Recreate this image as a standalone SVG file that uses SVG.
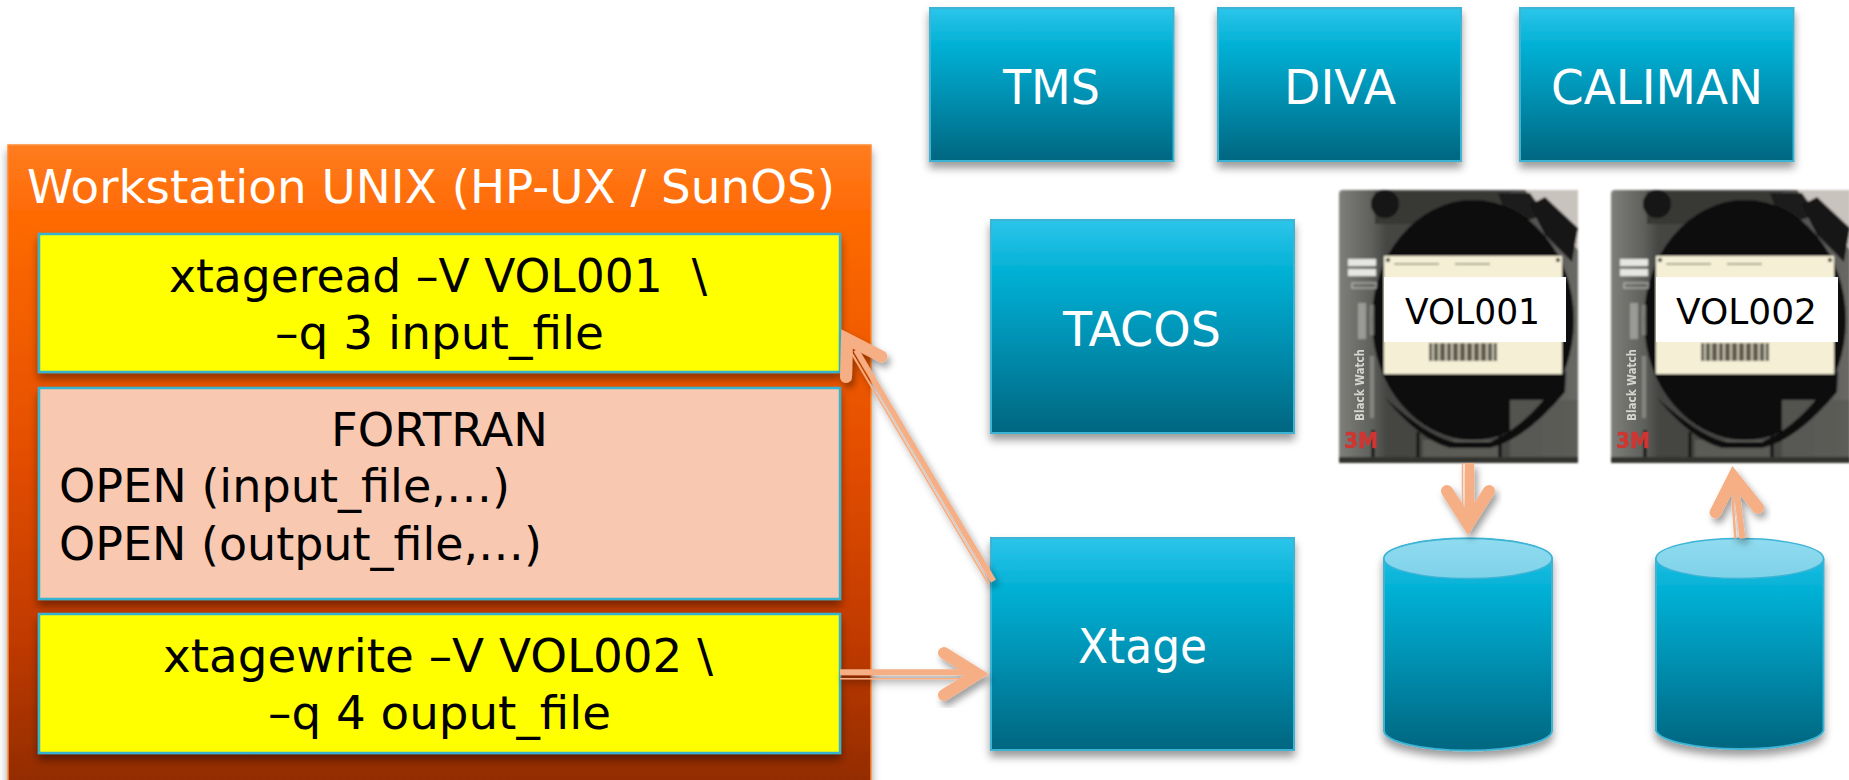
<svg xmlns="http://www.w3.org/2000/svg" width="1849" height="780" viewBox="0 0 1849 780">
<style>
text{font-family:"DejaVu Sans","Liberation Sans",sans-serif;white-space:pre}
.t45{font-size:46px;fill:#000}
.w45{font-size:46px;fill:#fff}
.w48{font-size:48px;fill:#fff;text-anchor:start}
.vol{font-size:36px;fill:#000}
.blue{fill:url(#blueG);stroke:#3db4d4;stroke-width:2;filter:url(#sh)}
.inner{stroke:#35b3d0;stroke-width:2.5;filter:url(#sh)}
.shaft{stroke:#f6ae85;fill:none}
.head{stroke:#f6ae85;fill:none;stroke-width:12;stroke-linecap:round;stroke-linejoin:miter;stroke-miterlimit:6}
.arrow{filter:url(#shA)}
</style>
<defs>
<linearGradient id="blueG" x1="0" y1="0" x2="0" y2="1"><stop offset="0" stop-color="#2dc5ea"/><stop offset=".25" stop-color="#00b0d4"/><stop offset=".55" stop-color="#0093b5"/><stop offset="1" stop-color="#006680"/></linearGradient>
<linearGradient id="orG" x1="0" y1="0" x2="0" y2="1"><stop offset="0" stop-color="#ff7c1e"/><stop offset=".1" stop-color="#ff6b06"/><stop offset=".45" stop-color="#e64f00"/><stop offset=".75" stop-color="#c03a00"/><stop offset="1" stop-color="#8b2a00"/></linearGradient>
<linearGradient id="capG" x1="0" y1="0" x2="0" y2="1"><stop offset="0" stop-color="#90dbef"/><stop offset="1" stop-color="#7fd2ea"/></linearGradient>
<linearGradient id="shellG" x1="0" y1="0" x2="1" y2="0"><stop offset="0" stop-color="#7e807a"/><stop offset=".14" stop-color="#5e5f5b"/><stop offset=".2" stop-color="#454543"/><stop offset=".7" stop-color="#484846"/><stop offset="1" stop-color="#6a6966"/></linearGradient>
<filter id="sh" x="-10%" y="-10%" width="120%" height="125%"><feDropShadow dx="0" dy="6" stdDeviation="4" flood-color="#000" flood-opacity=".4"/></filter>
<filter id="shA" x="-30%" y="-30%" width="160%" height="160%"><feDropShadow dx="3" dy="5" stdDeviation="3.5" flood-color="#000" flood-opacity=".38"/></filter>
<filter id="bl" x="-5%" y="-5%" width="110%" height="110%"><feGaussianBlur stdDeviation="1.1"/></filter>
<filter id="bs" x="-10%" y="-10%" width="120%" height="120%"><feGaussianBlur stdDeviation=".6"/></filter>
<g id="tapeImg">
<g filter="url(#bl)">
<rect x="1339" y="190" width="239" height="273" rx="4" fill="url(#shellG)"/>
<path d="M1525 190H1578V250L1540 205Z" fill="#c9c3bd"/>
<rect x="1375" y="192" width="135" height="32" fill="#383836"/>
<circle cx="1385" cy="204" r="14" fill="#141414"/>
<path d="M1498 193L1530 193L1545 215L1510 225Z" fill="#1a1a1a"/>
<path d="M1530 205L1545 197L1578 228L1572 262L1545 235Z" fill="#141414"/>
<path d="M1440 207Q1465 203 1490 207L1480 212H1450Z" fill="#707070"/>
<ellipse cx="1473" cy="320" rx="101" ry="120" fill="#0f0f0f"/>
<path d="M1510 400H1578V458H1510Z" fill="#5a5a56" opacity=".9"/>
<path d="M1423 440H1498V458H1423Z" fill="#5b5b57"/>
<path d="M1385 398Q1430 438 1455 442H1490Q1530 425 1566 370L1565 392Q1525 440 1490 448H1450Q1420 440 1385 398Z" fill="#0f0f0f"/>
<path d="M1373 430V460M1418 432V460M1500 432V460" stroke="#111" stroke-width="3"/>
<rect x="1339" y="457" width="239" height="6" fill="#33332f"/>
<rect x="1384" y="256" width="178" height="118" fill="#f4efd5"/>
<circle cx="1388" cy="260" r="2" fill="#222"/>
<circle cx="1558" cy="260" r="2" fill="#222"/>
<rect x="1394" y="263" width="45" height="2" fill="#aaa78f"/>
<rect x="1455" y="263" width="35" height="2" fill="#aaa78f"/>
<rect x="1348" y="259" width="28" height="7" fill="#e6e6e2"/>
<rect x="1348" y="269" width="28" height="7" fill="#e6e6e2"/>
<rect x="1352" y="283" width="24" height="5" fill="none" stroke="#ccc" stroke-width="1"/>
<rect x="1429" y="343" width="68" height="18" fill="#5d5a50"/>
<path d="M1433 343v18M1439 343v18M1446 343v18M1452 343v18M1459 343v18M1466 343v18M1473 343v18M1480 343v18M1487 343v18M1493 343v18" stroke="#e4dfc6" stroke-width="1.6"/>
<rect x="1358" y="303" width="8" height="36" fill="#b5b5b0" opacity=".65"/>
<rect x="1370" y="305" width="4" height="30" fill="#a0a09a" opacity=".6"/>
<rect x="1370" y="356" width="4" height="62" fill="#a0a09a" opacity=".6"/>
</g>
<g filter="url(#bs)">
<text transform="translate(1364 421) rotate(-90)" font-size="13" font-weight="bold" fill="#d4d4cf" textLength="72" lengthAdjust="spacingAndGlyphs">Black Watch</text>
<text x="1344" y="448" font-size="22" font-weight="bold" fill="#cf3531" stroke="#cf3531" stroke-width=".6" textLength="34" lengthAdjust="spacingAndGlyphs">3M</text>
</g>
</g>
</defs>

<g id="workstation">
<rect x="8" y="145" width="863" height="660" fill="url(#orG)" stroke="#ff8a33" stroke-width="1.5" filter="url(#sh)"/>
<text class="w45" x="27" y="202.5" textLength="808" lengthAdjust="spacingAndGlyphs">Workstation UNIX (HP-UX / SunOS)</text>
</g>
<g id="xtageread">
<rect class="inner" x="39" y="234" width="801" height="138" fill="#ffff00"/>
<text class="t45" x="169" y="291.5" textLength="538" lengthAdjust="spacingAndGlyphs">xtageread –V VOL001  \</text>
<text class="t45" x="275" y="348.5" textLength="329" lengthAdjust="spacingAndGlyphs">–q 3 input_file</text>
</g>
<g id="fortran">
<rect class="inner" x="39" y="388" width="801" height="211" fill="#f9c8b0"/>
<text class="t45" x="331" y="446" textLength="217" lengthAdjust="spacingAndGlyphs">FORTRAN</text>
<text class="t45" x="59" y="502" textLength="451" lengthAdjust="spacingAndGlyphs">OPEN (input_file,…)</text>
<text class="t45" x="59" y="560" textLength="483" lengthAdjust="spacingAndGlyphs">OPEN (output_file,…)</text>
</g>
<g id="xtagewrite">
<rect class="inner" x="39" y="614" width="801" height="139" fill="#ffff00"/>
<text class="t45" x="163" y="672" textLength="550" lengthAdjust="spacingAndGlyphs">xtagewrite –V VOL002 \</text>
<text class="t45" x="268" y="729" textLength="343" lengthAdjust="spacingAndGlyphs">–q 4 ouput_file</text>
</g>

<g id="tms"><rect class="blue" x="930" y="8" width="243.500" height="153"/><text class="w48" x="1003" y="104" textLength="97" lengthAdjust="spacingAndGlyphs">TMS</text></g>
<g id="diva"><rect class="blue" x="1218" y="8" width="243" height="153"/><text class="w48" x="1284" y="104" textLength="112" lengthAdjust="spacingAndGlyphs">DIVA</text></g>
<g id="caliman"><rect class="blue" x="1520" y="8" width="273.500" height="153"/><text class="w48" x="1551" y="104" textLength="212" lengthAdjust="spacingAndGlyphs">CALIMAN</text></g>
<g id="tacos"><rect class="blue" x="991" y="220" width="303" height="213"/><text class="w48" x="1063" y="345.500" textLength="158" lengthAdjust="spacingAndGlyphs">TACOS</text></g>
<g id="xtage"><rect class="blue" x="991" y="538" width="303" height="212"/><text class="w48" x="1078" y="663" textLength="129" lengthAdjust="spacingAndGlyphs">Xtage</text></g>

<g id="tape-vol001">
<use href="#tapeImg"/>
<rect x="1384" y="277" width="182" height="65" fill="#fff"/>
<text class="vol" x="1405" y="323.500" textLength="135" lengthAdjust="spacingAndGlyphs">VOL001</text>
</g>
<g id="tape-vol002">
<use href="#tapeImg" x="272"/>
<rect x="1656" y="277" width="182" height="65" fill="#fff"/>
<text class="vol" x="1676" y="323.500" textLength="141" lengthAdjust="spacingAndGlyphs">VOL002</text>
</g>

<g id="disk1">
<path d="M1384 558.500A84 20 0 0 1 1552 558.500V730.500A84 20 0 0 1 1384 730.500Z" fill="url(#blueG)" stroke="#3db4d4" stroke-width="2" filter="url(#sh)"/>
<ellipse cx="1468" cy="558.500" rx="84" ry="20" fill="url(#capG)" stroke="#3db4d4" stroke-width="1.500"/>
</g>
<g id="disk2">
<path d="M1656 558.500A84 20 0 0 1 1823.500 558.500V730.500A84 20 0 0 1 1656 730.500Z" fill="url(#blueG)" stroke="#3db4d4" stroke-width="2" filter="url(#sh)"/>
<ellipse cx="1739.750" cy="558.500" rx="83.750" ry="20" fill="url(#capG)" stroke="#3db4d4" stroke-width="1.500"/>
</g>

<g id="connectors">
<g class="arrow">
<line class="shaft" x1="993.500" y1="581" x2="856" y2="350" stroke-width="5.500"/>
<line class="shaft" x1="988.500" y1="584" x2="851.500" y2="353" stroke-width="1.800"/>
<polyline class="head" points="881.500,356.500 847,339 846,377"/>
</g>
<g class="arrow">
<line class="shaft" x1="840" y1="672.300" x2="975" y2="672.300" stroke-width="6"/>
<line class="shaft" x1="840" y1="678.700" x2="965" y2="678.700" stroke-width="1.500"/>
<polyline class="head" points="944,653 977.500,674 944,695"/>
</g>
<g class="arrow">
<line class="shaft" x1="1469.500" y1="463" x2="1469.500" y2="525" stroke-width="9.500"/>
<line class="shaft" x1="1462.500" y1="463" x2="1462.500" y2="515" stroke-width="1.500"/>
<polyline class="head" points="1447,491 1468,524 1489,491"/>
</g>
<g class="arrow">
<line class="shaft" x1="1742.400" y1="538.500" x2="1736" y2="485" stroke-width="6"/>
<line class="shaft" x1="1735.300" y1="538.500" x2="1732" y2="490" stroke-width="2.500"/>
<polyline class="head" points="1715.600,512.400 1733.500,477 1758,507.700"/>
</g>
</g>
</svg>
